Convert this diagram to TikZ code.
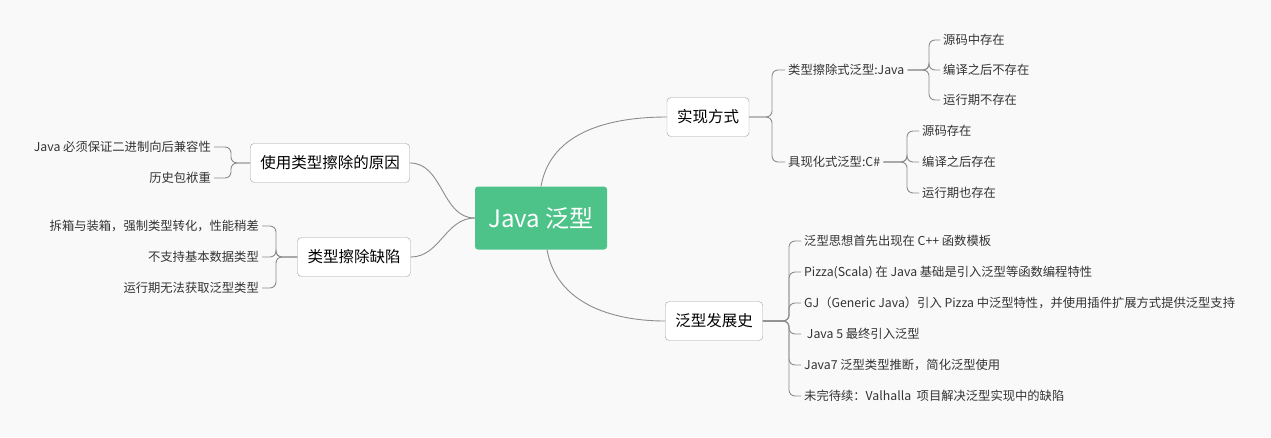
\documentclass[tikz,border=0pt]{standalone}
\usepackage{fontspec}
\setmainfont{Noto Sans CJK SC}
\usetikzlibrary{positioning}
\definecolor{rootgreen}{HTML}{4DC38A}
\definecolor{linegray}{HTML}{8C8C8C}
\definecolor{bggray}{HTML}{F9F9F9}
\tikzset{
  rootbox/.style={rectangle, rounded corners=3pt, fill=rootgreen, text=white,
    font=\fontsize{24}{28}\selectfont, minimum width=132pt, minimum height=63pt},
  topicbox/.style={rectangle, rounded corners=4pt, draw=linegray!80, fill=white,
    font=\fontsize{15.5}{18}\selectfont, minimum height=39pt, inner xsep=10pt},
  leaf/.style={font=\fontsize{12.3}{14}\selectfont, text=black!80, inner sep=3pt},
  wire/.style={draw=linegray, line width=0.9pt},
  brace/.style={wire, rounded corners=6pt}
}
\begin{document}
\begin{tikzpicture}[x=1pt,y=-1pt]
  \fill[bggray] (0,0) rectangle (1271,437);
  \useasboundingbox (0,0) rectangle (1271,437);
  % Place nodes
  \node [rootbox] (root) at (541,218) {Java 泛型};
  \node [topicbox] (impl) at (708,117) {实现方式};
  \node [topicbox] (hist) at (714,321) {泛型发展史};
  \node [topicbox] (why) at (330,163) {使用类型擦除的原因};
  \node [topicbox] (flaw) at (354,257) {类型擦除缺陷};
  % right side leaves
  \node [leaf, anchor=west] (erase) at (785,70) {类型擦除式泛型:Java};
  \node [leaf, anchor=west] (reify) at (785,162) {具现化式泛型:C\#};
  \node [leaf, anchor=west] (e1) at (940,40) {源码中存在};
  \node [leaf, anchor=west] (e2) at (940,70) {编译之后不存在};
  \node [leaf, anchor=west] (e3) at (940,100) {运行期不存在};
  \node [leaf, anchor=west] (r1) at (919,131) {源码存在};
  \node [leaf, anchor=west] (r2) at (919,162) {编译之后存在};
  \node [leaf, anchor=west] (r3) at (919,193) {运行期也存在};
  \node [leaf, anchor=west] (h1) at (801,241) {泛型思想首先出现在 C++ 函数模板};
  \node [leaf, anchor=west] (h2) at (801,272) {Pizza(Scala) 在 Java 基础是引入泛型等函数编程特性};
  \node [leaf, anchor=west] (h3) at (801,303) {GJ（Generic Java）引入 Pizza 中泛型特性，并使用插件扩展方式提供泛型支持};
  \node [leaf, anchor=west] (h4) at (801,334) {~Java 5 最终引入泛型};
  \node [leaf, anchor=west] (h5) at (801,365) {Java7 泛型类型推断，简化泛型使用};
  \node [leaf, anchor=west] (h6) at (801,396) {未完待续：Valhalla~ 项目解决泛型实现中的缺陷};
  % left side leaves
  \node [leaf, anchor=east] (w1) at (214,147) {Java 必须保证二进制向后兼容性};
  \node [leaf, anchor=east] (w2) at (214,178) {历史包袱重};
  \node [leaf, anchor=east] (f1) at (262,226) {拆箱与装箱，强制类型转化，性能稍差};
  \node [leaf, anchor=east] (f2) at (262,257) {不支持基本数据类型};
  \node [leaf, anchor=east] (f3) at (262,288) {运行期无法获取泛型类型};
  % Draw edges
  \draw[wire] (root.north) to [out=80,in=180] (impl.west);
  \draw[wire] (root.south) ++(6,0) to [out=-80,in=180] (hist.west);
  \draw[wire] (root.west) to [out=180,in=0] (why.east);
  \draw[wire] (root.west) to [out=180,in=0] (flaw.east);
  \foreach \c in {erase,reify}
    \draw[brace] (impl.east) -- (772,117) |- (\c.west);
  \foreach \c in {e1,e2,e3}
    \draw[brace] (erase.east) -- (929,70) |- (\c.west);
  \foreach \c in {r1,r2,r3}
    \draw[brace] (reify.east) -- (907,162) |- (\c.west);
  \foreach \c in {h1,h2,h3,h4,h5,h6}
    \draw[brace] (hist.east) -- (789,321) |- (\c.west);
  \foreach \c in {w1,w2}
    \draw[brace] (why.west) -- (231,163) |- (\c.east);
  \foreach \c in {f1,f2,f3}
    \draw[brace] (flaw.west) -- (276,257) |- (\c.east);
\end{tikzpicture}
\end{document}
